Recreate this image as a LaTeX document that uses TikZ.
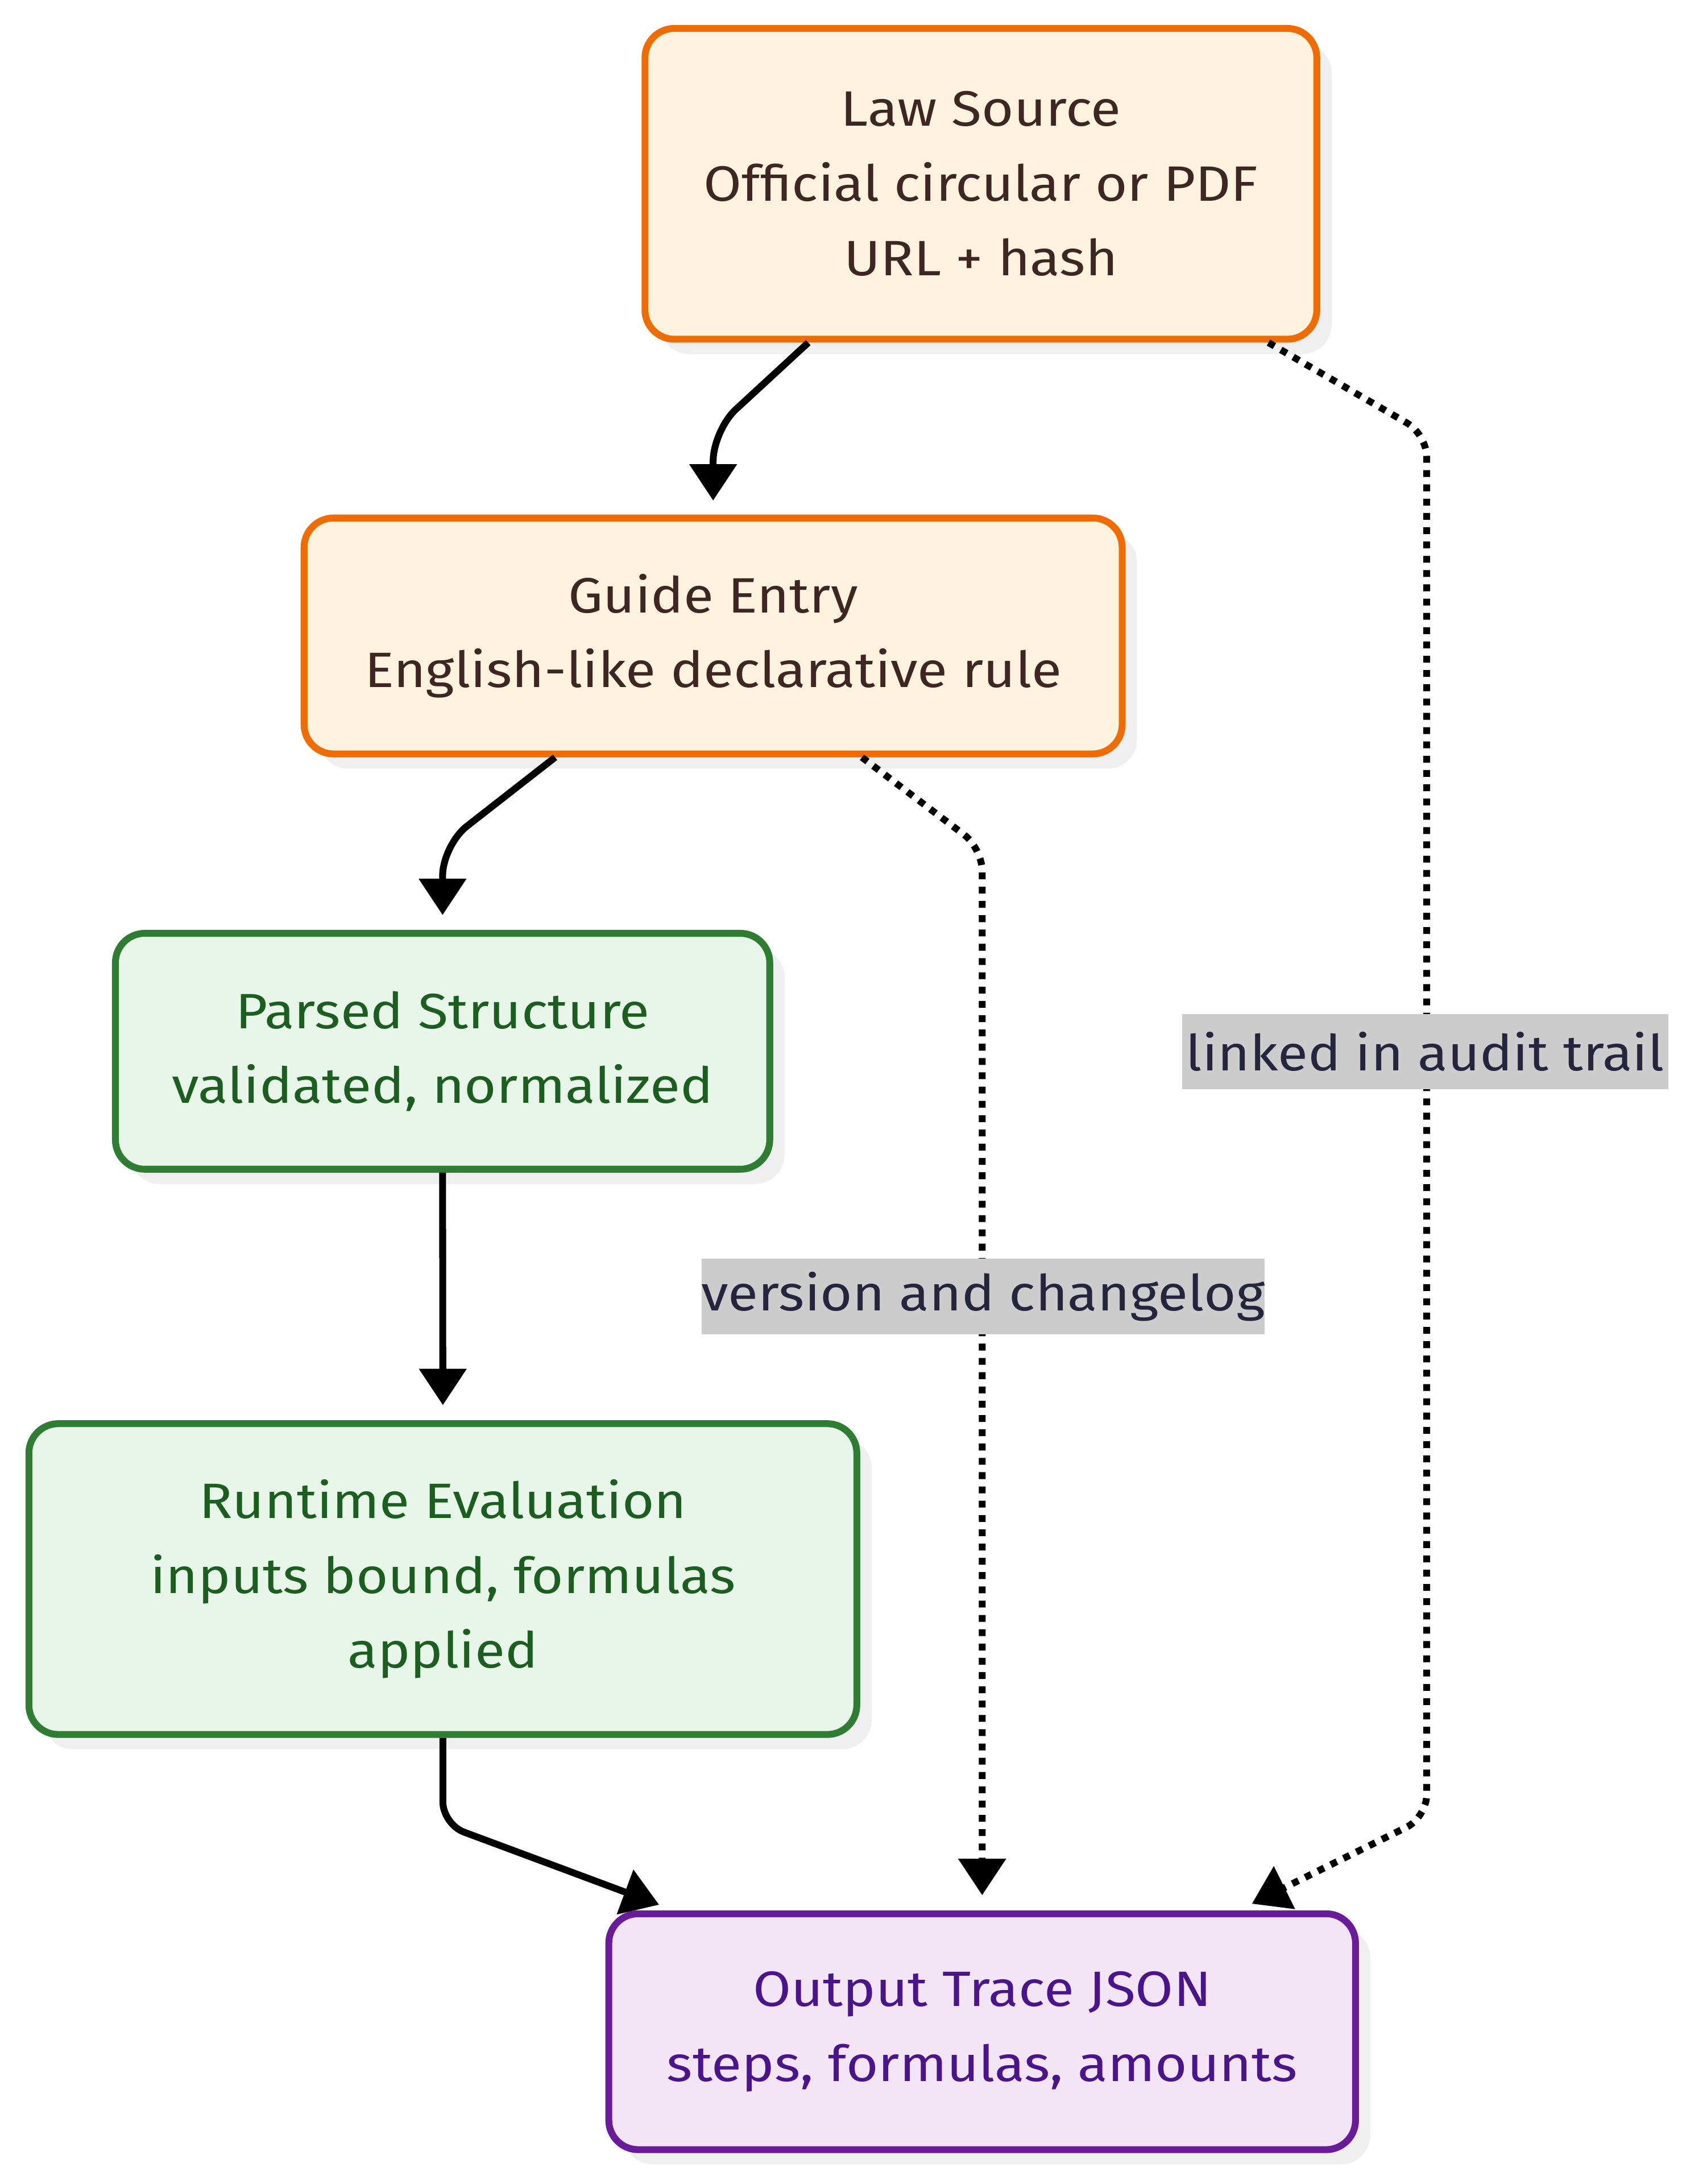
\documentclass[tikz,border=0pt]{standalone}
\usepackage{fontspec}
\setmainfont[FakeStretch=1.11]{Fira Sans}
\usetikzlibrary{arrows.meta,shadows,calc}
\definecolor{orS}{HTML}{EF6C00}
\definecolor{orF}{HTML}{FFF3E0}
\definecolor{orT}{HTML}{3E2723}
\definecolor{grS}{HTML}{2E7D32}
\definecolor{grF}{HTML}{E8F5E9}
\definecolor{grT}{HTML}{1B5E20}
\definecolor{puS}{HTML}{6A1B9A}
\definecolor{puF}{HTML}{F3E5F5}
\definecolor{puT}{HTML}{4A148C}
\definecolor{shadowc}{HTML}{EFEFEF}
\definecolor{labbg}{HTML}{CCCCCC}
\definecolor{labtx}{HTML}{27253D}
\tikzset{
  box/.style={rectangle, rounded corners=21pt, line width=4.9pt, align=center,
    inner sep=0pt, font=\fontsize{35.5}{53.5}\selectfont,
    drop shadow={shadow xshift=10.6pt, shadow yshift=-10.6pt, fill=shadowc, opacity=1}},
  orangebox/.style={box, draw=orS, fill=orF, text=orT},
  greenbox/.style={box, draw=grS, fill=grF, text=grT},
  purplebox/.style={box, draw=puS, fill=puF, text=puT},
  conn/.style={line width=4.9pt, rounded corners=22pt, -{Triangle[length=26pt,width=33pt]}},
  dotconn/.style={conn, rounded corners=16pt, dash pattern=on 4.9pt off 5.3pt},
  elabel/.style={fill=labbg, text=labtx, font=\fontsize{35.5}{40}\selectfont,
    inner sep=0pt, minimum height=53.8pt}
}
\begin{document}
\begin{tikzpicture}[x=1pt,y=-1pt]
\useasboundingbox (0,0) rectangle (1216.7,1560);

\node[orangebox, minimum width=480pt, minimum height=222pt] (law) at (700.8,131.3)
  {Law Source\\Official circular or PDF\\URL + hash};
\node[orangebox, minimum width=584.5pt, minimum height=168.5pt] (guide) at (509.5,454.25)
  {Guide Entry\\English-like declarative rule};
\node[greenbox, minimum width=467.5pt, minimum height=168.5pt] (parsed) at (316.2,750.9)
  {Parsed Structure\\validated, normalized};
\node[greenbox, minimum width=591.5pt, minimum height=222pt] (runtime) at (316.4,1127.9)
  {Runtime Evaluation\\inputs bound, formulas\\applied};
\node[purplebox, minimum width=533.5pt, minimum height=168.5pt] (output) at (701.7,1451.2)
  {Output Trace JSON\\steps, formulas, amounts};

% solid connectors
\draw[conn] (law.south west) ++(119.1,0) -- (509.5,307.4) -- ($(guide.north)+(0,-10)$);
\draw[conn] (guide.south west) ++(181.8,0) -- (316.2,603.7) -- ($(parsed.north)+(0,-10.6)$);
\draw[conn] (parsed.south) -- ($(runtime.north)+(0,-10.8)$);
\draw[conn, rounded corners=16pt] (runtime.south) -- (316.4,1303) -- ($(output.north west)+(38.4,-4)$);

% dotted connectors
\draw[dotconn] (guide.south west) ++(401,0) -- (701.7,606) -- ($(output.north)+(0,-10.8)$);
\draw[dotconn] (law.south east) ++(-37,0) -- (1019.3,310.3) -- (1019.3,1298) -- ($(output.north east)+(-76.5,-4.7)$);

% edge labels
\node[elabel, minimum width=398pt] (lab1) at (702.4,926.1) {version and changelog};
\node[elabel, minimum width=347.3pt] (lab2) at (1018.2,751.2) {linked in audit trail};
\end{tikzpicture}
\end{document}
